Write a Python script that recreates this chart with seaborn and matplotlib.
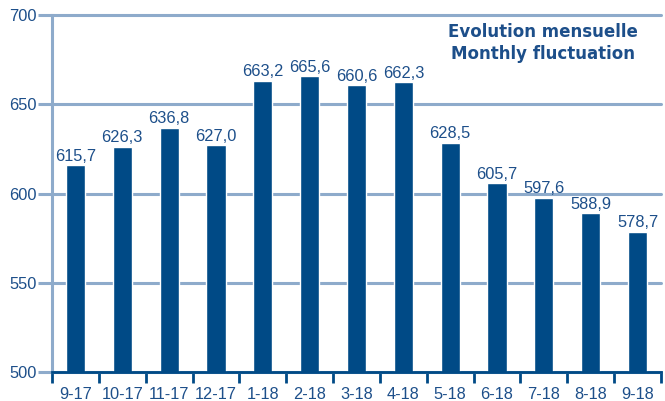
import matplotlib
matplotlib.use("Agg")
import matplotlib.pyplot as plt
import seaborn as sns
import pandas as pd

# monthly values
months = ["9-17", "10-17", "11-17", "12-17", "1-18", "2-18", "3-18",
          "4-18", "5-18", "6-18", "7-18", "8-18", "9-18"]
values = [615.7, 626.3, 636.8, 627.0, 663.2, 665.6, 660.6,
          662.3, 628.5, 605.7, 597.6, 588.9, 578.7]
y_ticks = [500, 550, 600, 650, 700]
title_lines = ["Evolution mensuelle", "Monthly fluctuation"]

bar_color = "#004a86"
text_color = "#1d4f8a"
grid_color = "#8eabcb"

df = pd.DataFrame({"month": months, "value": values})

sns.set_style("white")
plt.rcParams["font.family"] = ["Liberation Sans", "DejaVu Sans"]

fig = plt.figure(figsize=(6.65, 4.01), dpi=100)
ax = fig.add_axes([52 / 665, 29 / 401, 609 / 665, 357 / 401])

sns.barplot(data=df, x="month", y="value", color=bar_color, width=0.41,
            saturation=1, ax=ax, zorder=3)

ax.set_ylim(500, 700)
ax.set_xlim(-0.5, len(months) - 0.5)
ax.set_yticks(y_ticks)
ax.set_xlabel("")
ax.set_ylabel("")

# grid lines, drawn behind the bars
ax.yaxis.grid(True, color=grid_color, linewidth=2.2, zorder=0)
ax.set_axisbelow(True)
for gl in ax.get_ygridlines():
    gl.set_clip_on(False)

for side in ["top", "right"]:
    ax.spines[side].set_visible(False)
ax.spines["left"].set_color(grid_color)
ax.spines["left"].set_linewidth(2.2)
ax.spines["bottom"].set_color(bar_color)
ax.spines["bottom"].set_linewidth(2)
ax.spines["bottom"].set_zorder(4)

ax.tick_params(axis="y", length=10, width=2.2, color=grid_color, pad=1,
               labelsize=11.8, labelcolor=text_color, left=True)
ax.tick_params(axis="x", which="major", length=0, pad=11,
               labelsize=11.8, labelcolor=text_color)
ax.set_xticks([i - 0.5 for i in range(len(months) + 1)], minor=True)
ax.tick_params(axis="x", which="minor", length=8, width=2, color=bar_color,
               direction="out", bottom=True)

labels = [f"{v:.1f}".replace(".", ",") for v in values]
ax.bar_label(ax.containers[0], labels=labels, padding=1,
             fontsize=11.8, color=text_color)

fig.text(543 / 665, 1 - 43 / 401, "\n".join(title_lines), ha="center", va="center",
         fontsize=12, fontweight="bold", color=text_color,
         family=["DejaVu Sans"], linespacing=1.35)

fig.savefig("out.png", dpi=100)
